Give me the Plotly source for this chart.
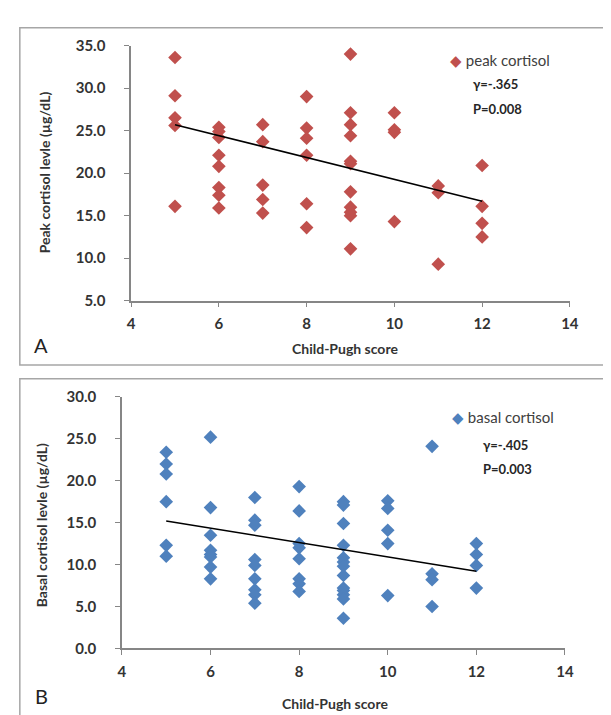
import plotly.graph_objects as go

# ---------------- data ----------------
peak_score = [5]*5 + [6]*8 + [7]*5 + [8]*6 + [9]*11 + [10]*4 + [11]*3 + [12]*4
peak_cortisol = [33.6, 29.1, 26.5, 25.6, 16.1,
                 25.4, 24.9, 24.2, 22.1, 20.8, 18.3, 17.4, 15.9,
                 25.7, 23.7, 18.6, 16.9, 15.3,
                 29.0, 25.3, 24.1, 22.1, 16.4, 13.6,
                 34.0, 27.1, 25.7, 24.4, 21.4, 21.1, 17.8, 16.0, 15.4, 15.0, 11.1,
                 27.1, 25.1, 24.8, 14.3,
                 18.5, 17.7, 9.3,
                 20.9, 16.1, 14.1, 12.5]

basal_score = [5]*6 + [6]*8 + [7]*9 + [8]*8 + [9]*13 + [10]*5 + [11]*4 + [12]*4
basal_cortisol = [23.4, 22.0, 20.8, 17.5, 12.3, 11.0,
                  25.2, 16.8, 13.5, 11.7, 11.2, 10.9, 9.7, 8.3,
                  18.0, 15.3, 14.7, 10.6, 9.9, 8.3, 7.0, 6.4, 5.4,
                  19.3, 16.4, 12.5, 12.0, 10.7, 8.3, 7.7, 6.8,
                  17.5, 17.1, 14.9, 12.3, 10.8, 10.3, 9.8, 8.7, 7.2, 6.9, 6.4, 5.9, 3.6,
                  17.6, 16.7, 14.1, 12.5, 6.3,
                  24.1, 8.9, 8.2, 5.0,
                  12.5, 11.2, 9.9, 7.2]

# linear trend lines
trend_score = [5, 12]
peak_trend = [25.7, 16.7]
basal_trend = [15.2, 9.2]

peak_ticks = [5.0, 10.0, 15.0, 20.0, 25.0, 30.0, 35.0]
basal_ticks = [0.0, 5.0, 10.0, 15.0, 20.0, 25.0, 30.0]
score_ticks = [4, 6, 8, 10, 12, 14]

peak_label = "peak cortisol"
basal_label = "basal cortisol"
peak_stats = ["γ=-.365", "P=0.008"]
basal_stats = ["γ=-.405", "P=0.003"]

# ---------------- styles ----------------
W, H = 611, 715
RED = "#C0504D"
BLUE = "#4F81BD"
AXC = "#868686"
FONT = "Lato"


def px(x):
    return x / W


def py(y):
    return 1 - y / H


fig = go.Figure()


def add_panel(xs, ys, tx, ty, color, xa, ya):
    fig.add_trace(go.Scatter(
        x=xs, y=ys, mode="markers", xaxis=xa, yaxis=ya,
        marker=dict(symbol="diamond", size=10.5, color=color,
                    line=dict(width=0)),
        showlegend=False))
    fig.add_trace(go.Scatter(
        x=tx, y=ty, mode="lines", xaxis=xa, yaxis=ya,
        line=dict(color="black", width=1.5), showlegend=False))


add_panel(peak_score, peak_cortisol, trend_score, peak_trend, RED, "x", "y")
add_panel(basal_score, basal_cortisol, trend_score, basal_trend, BLUE, "x2", "y2")

tickfont = dict(family=FONT, size=15, color="#333333", weight="bold")
common_x = dict(range=[4, 14], tickvals=score_ticks, showgrid=False,
                zeroline=False, showline=True, linecolor=AXC, linewidth=1.5,
                ticks="outside", ticklen=5, tickcolor=AXC, tickwidth=1.3,
                tickfont=tickfont, ticklabelstandoff=4)
common_y = dict(showgrid=False, zeroline=False, showline=True, linecolor=AXC,
                linewidth=1.5, ticks="outside", ticklen=5, tickcolor=AXC,
                tickwidth=1.3, tickfont=tickfont, tickformat=".1f",
                ticklabelstandoff=16)

fig.update_layout(
    width=W, height=H,
    margin=dict(l=0, r=0, t=0, b=0),
    paper_bgcolor="white", plot_bgcolor="white",
    font=dict(family=FONT, color="#404040"),
    xaxis=dict(domain=[px(121.7), px(570)], anchor="y", **common_x),
    yaxis=dict(domain=[py(290), py(28.3)], anchor="x", range=[5, 35],
               tickvals=peak_ticks, **common_y),
    xaxis2=dict(domain=[px(112.3), px(565)], anchor="y2", **common_x),
    yaxis2=dict(domain=[py(646.7), py(388.7)], anchor="x2", range=[0, 30],
                tickvals=basal_ticks, **common_y),
)

# panel frames
fig.add_shape(type="rect", xref="paper", yref="paper",
              x0=px(8), x1=px(640), y0=py(356), y1=py(10),
              line=dict(color="#A6A6A6", width=1.5))
fig.add_shape(type="rect", xref="paper", yref="paper",
              x0=px(8), x1=px(640), y0=py(740), y1=py(370),
              line=dict(color="#A6A6A6", width=1.5))


def ann(text, x, y, size=14, bold=True, angle=0, xanchor="center",
        color="#333333"):
    t = f"<b>{text}</b>" if bold else text
    fig.add_annotation(text=t, xref="paper", yref="paper", x=px(x), y=py(y),
                       showarrow=False, textangle=angle, xanchor=xanchor,
                       yanchor="middle",
                       font=dict(family=FONT, size=size, color=color))


# axis titles
ann("Peak cortisol levle (µg/dL)", 33, 158, angle=-90)
ann("Child-Pugh score", 340, 339)
ann("Basal cortisol levle (µg/dL)", 31, 520, angle=-90)
ann("Child-Pugh score", 330, 703)

# panel letters
ann("A", 30, 335, size=20, bold=False, color="#222222")
ann("B", 30, 696, size=20, bold=False, color="#222222")

# legends + stats
ann(f"<span style='color:{RED}'>◆</span> {peak_label}", 445, 43,
    size=15, bold=False, xanchor="left", color="#404040")
ann(peak_stats[0], 469, 68, size=13, xanchor="left", color="#262626")
ann(peak_stats[1], 469, 93, size=13, xanchor="left", color="#262626")

ann(f"<span style='color:{BLUE}'>◆</span> {basal_label}", 448, 409,
    size=15, bold=False, xanchor="left", color="#404040")
ann(basal_stats[0], 479, 438, size=13, xanchor="left", color="#262626")
ann(basal_stats[1], 479, 463, size=13, xanchor="left", color="#262626")

fig.write_html("out.html")
